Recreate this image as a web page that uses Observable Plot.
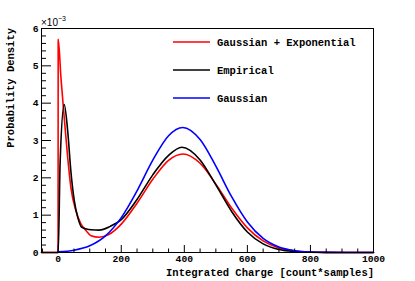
<!DOCTYPE html>
<html><head><meta charset="utf-8">
<script src="https://cdn.jsdelivr.net/npm/d3@7"></script>
<script src="https://cdn.jsdelivr.net/npm/@observablehq/plot@0.6"></script>
<style>body{margin:0;background:#fff} svg{display:block}</style>
</head><body><div id="chart"></div>
<script>
// Values in units of 1e-3 (probability density)
const redX = [-53, -0.5, 0, 8.6, 19, 30, 40, 56, 72, 88, 104, 130, 160, 200, 250, 300, 350, 395, 450, 500, 550, 600, 650, 700, 750, 800, 850, 1000];
const redY = [0, 0, 5.71, 4.69, 3.62, 2.55, 1.75, 1.12, 0.77, 0.59, 0.45, 0.41, 0.48, 0.76, 1.32, 1.96, 2.47, 2.64, 2.39, 1.83, 1.19, 0.66, 0.31, 0.12, 0.041, 0.012, 0.003, 0];
const blackX = [-53, 0, 6, 19, 30, 40, 51, 62, 74, 90, 104, 130, 165, 200, 250, 300, 350, 392, 450, 500, 550, 600, 650, 700, 750, 800, 850, 1000];
const blackY = [0, 0, 2.4, 3.96, 3.26, 2.19, 1.39, 0.94, 0.68, 0.63, 0.61, 0.60, 0.70, 0.88, 1.42, 2.08, 2.60, 2.82, 2.48, 1.81, 1.10, 0.55, 0.23, 0.078, 0.022, 0.005, 0.001, 0];
const blueX = [0, 50, 100, 150, 200, 250, 300, 350, 395, 450, 500, 550, 600, 650, 700, 750, 800, 850, 900, 1000];
const blueY = [0.018, 0.061, 0.180, 0.446, 0.934, 1.653, 2.474, 3.129, 3.35, 3.026, 2.313, 1.494, 0.816, 0.377, 0.147, 0.049, 0.014, 0.003, 0, 0];

const seriesNames = ["Gaussian + Exponential", "Empirical", "Gaussian"];
const seriesColors = ["#ff0000", "#000000", "#0000ff"];

const xMajor = [0, 200, 400, 600, 800, 1000];
const xMinor = [-50, 50, 100, 150, 250, 300, 350, 450, 500, 550, 650, 700, 750, 850, 900, 950];
const yMajor = [0, 1, 2, 3, 4, 5, 6];
const yMinor = d3.range(0, 30).map(i => i / 5).filter(v => !Number.isInteger(v));

const toPts = (xs, ys) => xs.map((x, i) => ({x, y: ys[i]}));
const series = [toPts(redX, redY), toPts(blackX, blackY), toPts(blueX, blueY)];

const W = 415, H = 281, mL = 41, mR = 42, mT = 28, mB = 29;
const pw = W - mL - mR, ph = H - mT - mB;

const plot = Plot.plot({
  width: W, height: H,
  marginLeft: mL, marginRight: mR, marginTop: mT, marginBottom: mB,
  x: {domain: [-53, 1000]},
  y: {domain: [0, 6]},
  style: {fontFamily: "Liberation Mono", fontSize: "9.7px", fontWeight: "bold", background: "white", overflow: "visible", color: "black"},
  marks: [
    ...series.map((d, i) => Plot.line(d, {x: "x", y: "y", stroke: seriesColors[i], strokeWidth: 1.6, curve: "monotone-x"})),
    Plot.tickY(yMinor, {insetRight: pw - 5, stroke: "black"}),
    Plot.tickY(yMajor, {insetRight: pw - 10, stroke: "black"}),
    Plot.tickX(xMinor, {insetTop: ph - 3.5, stroke: "black"}),
    Plot.tickX(xMajor, {insetTop: ph - 7, stroke: "black"}),
    Plot.axisX(xMajor, {tickSize: 0, tickPadding: 2.5, label: null, tickFormat: d => String(d), fontWeight: "bold"}),
    Plot.axisY(yMajor, {tickSize: 0, tickPadding: 3, label: null, tickFormat: d => String(d), fontWeight: "bold"}),
    Plot.frame({stroke: "black"})
  ]
});
document.getElementById("chart").appendChild(plot);

const svg = d3.select(plot);
// axis titles
svg.append("text").attr("x", 374).attr("y", 275.5).attr("text-anchor", "end")
  .attr("font-family", "Liberation Mono").attr("font-weight", "bold").attr("font-size", 10.5)
  .attr("fill", "black").text("Integrated Charge [count*samples]");
svg.append("text").attr("transform", "translate(13.5,28) rotate(-90)").attr("text-anchor", "end")
  .attr("font-family", "Liberation Mono").attr("font-weight", "bold").attr("font-size", 10.5)
  .attr("fill", "black").text("Probability Density");
// exponent
const ex = svg.append("text").attr("x", 41).attr("y", 26).attr("text-anchor", "start")
  .attr("font-family", "Liberation Sans").attr("font-weight", "normal").attr("font-size", 10).attr("fill", "black");
ex.append("tspan").text("×10");
ex.append("tspan").attr("dy", -5).attr("font-size", 7).text("−3");
// legend
const legY = [42, 70, 98];
seriesNames.forEach((name, i) => {
  svg.append("line").attr("x1", 173).attr("x2", 210).attr("y1", legY[i]).attr("y2", legY[i])
    .attr("stroke", seriesColors[i]).attr("stroke-width", 1.5);
  svg.append("text").attr("x", 217).attr("y", legY[i]).attr("dy", "0.35em").attr("text-anchor", "start")
    .attr("font-family", "Liberation Mono").attr("font-weight", "bold").attr("font-size", 10.5)
    .attr("fill", "black").text(name);
});
</script>
</body></html>
